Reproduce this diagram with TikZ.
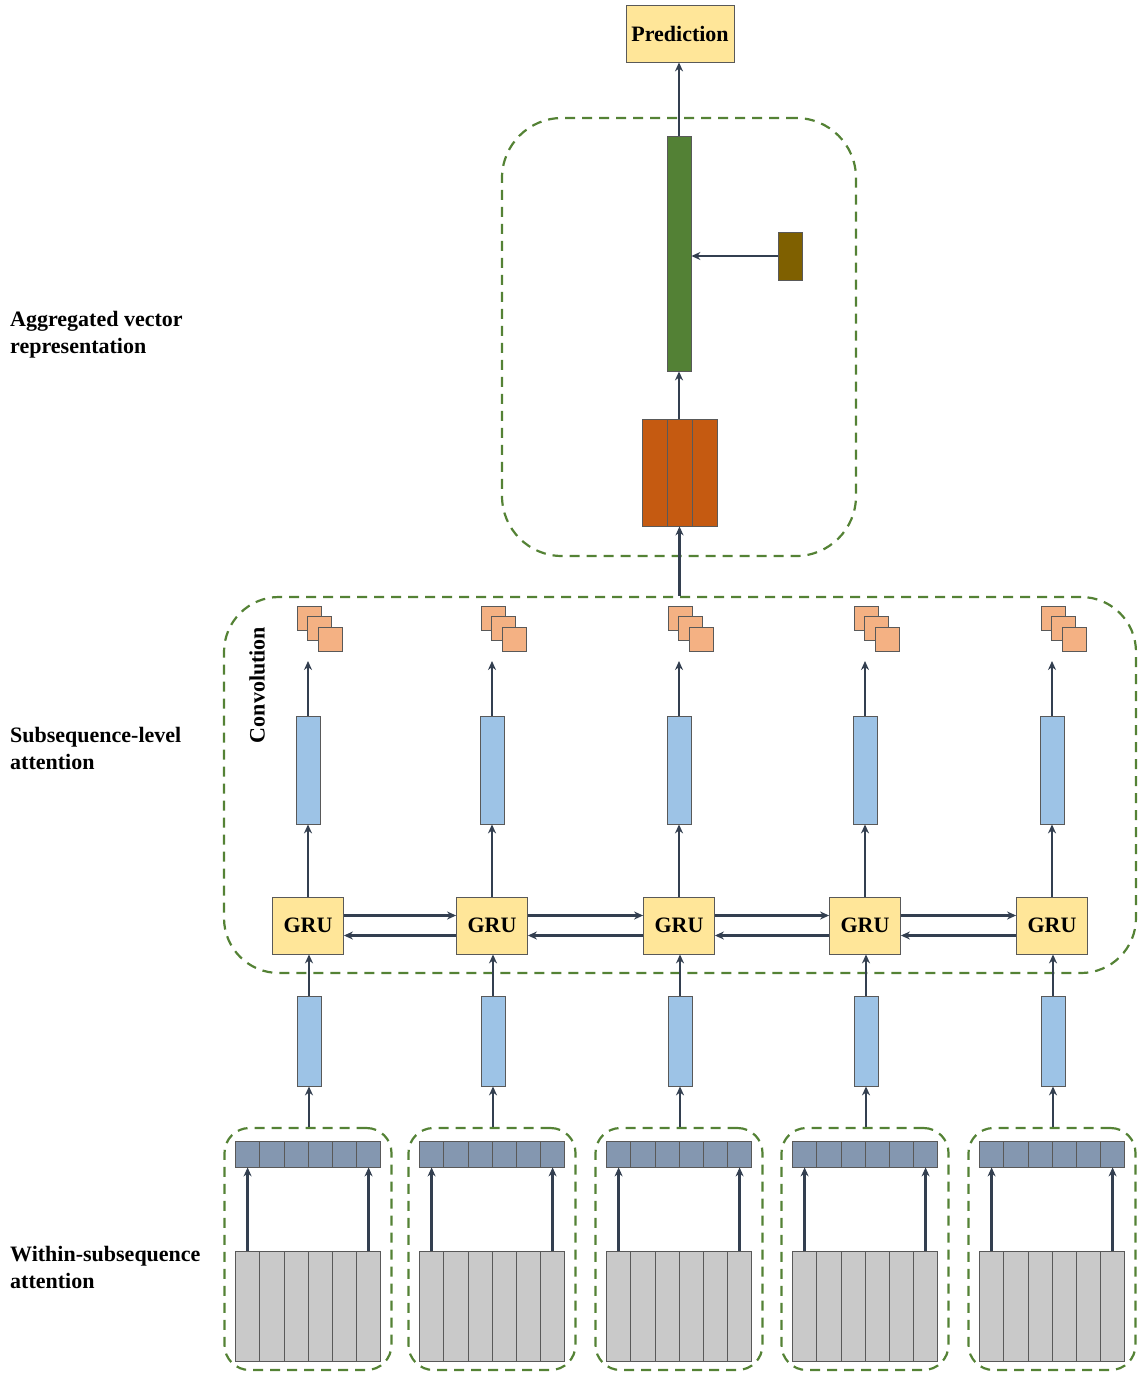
\documentclass[tikz,border=0pt]{standalone}
\usepackage{fontspec}
\setmainfont{Liberation Serif}
\usetikzlibrary{arrows.meta,calc,positioning}
\definecolor{arrline}{HTML}{333F50}
\definecolor{boxline}{HTML}{595959}
\definecolor{grpgreen}{HTML}{548235}
\definecolor{predyellow}{HTML}{FFE699}
\definecolor{aggreen}{HTML}{538135}
\definecolor{ctxbrown}{HTML}{7F6000}
\definecolor{convorange}{HTML}{C55A11}
\definecolor{salmon}{HTML}{F4B183}
\definecolor{lightblue}{HTML}{9DC3E6}
\definecolor{rowblue}{HTML}{8497B0}
\definecolor{cellgray}{HTML}{C9C9C9}
\tikzstyle{box}=[draw=boxline, line width=0.8pt, inner sep=0pt]
\tikzstyle{arr}=[-{Stealth[length=9pt, width=8pt]}, draw=arrline, line width=2.4pt]
\tikzstyle{grp}=[draw=grpgreen, dash pattern=on 10pt off 7pt, line width=2.2pt]
\tikzstyle{lbl}=[font=\fontsize{22}{27}\selectfont\bfseries]

\begin{document}
\begin{tikzpicture}[x=1pt, y=-1pt]
  \useasboundingbox (0,0) rectangle (1137,1375);
  % side labels
  \node[lbl, align=left, anchor=west, inner sep=0pt] (lagg) at (10,335) {Aggregated vector\\representation};
  \node[lbl, align=left, anchor=west, inner sep=0pt] (lsub) at (10,748) {Subsequence-level\\attention};
  \node[lbl, align=left, anchor=west, inner sep=0pt] (lwin) at (10,1267) {Within-subsequence\\attention};
  % prediction
  \node[box, lbl, fill=predyellow, minimum width=108, minimum height=57] (pred) at (680,33.5) {Prediction};
  % aggregated vector
  \node[grp, rounded corners=60, minimum width=354, minimum height=438] (aggbox) at (679,337) {};
  \node[box, fill=aggreen, minimum width=24, minimum height=235] (agg) at (679,253.5) {};
  \node[box, fill=ctxbrown, minimum width=24, minimum height=48] (ctx) at (790,256) {};
  \foreach \k/\x in {1/654.5,2/679.5,3/705}
    \node[box, fill=convorange, minimum width=25, minimum height=107] (conv\k) at (\x,472.5) {};
  \draw[arr] (agg.north) -- (agg.north |- pred.south);
  \draw[arr] (ctx.west) -- (ctx.west -| agg.east);
  \draw[arr] (agg.south |- conv2.north) -- (agg.south);
  % subsequence-level attention
  \node[grp, rounded corners=55, minimum width=912, minimum height=376] (subbox) at (680,785) {};
  \draw[arr] (subbox.north -| conv2.south) -- (conv2.south);
  \node[lbl, rotate=90] (convlbl) at (257,685) {Convolution};
  \foreach \x [count=\i] in {308,492,679,865,1052} {
    \node[box, lbl, fill=predyellow, minimum width=71, minimum height=57] (gru\i) at (\x,925.5) {GRU};
    \node[box, fill=lightblue, minimum width=24, minimum height=108] (hid\i) at (\x,770) {};
    \foreach \k/\d in {1/0,2/10,3/21}
      \node[box, fill=salmon, minimum width=24, minimum height=24] (fm\i\k) at (\x+1+\d,618+\d) {};
    \coordinate (top\i) at (\x,661);
    \draw[arr] (gru\i) -- (hid\i);
    \draw[arr] (hid\i) -- (top\i);
    % within-subsequence attention
    \node[grp, rounded corners=25, minimum width=167, minimum height=242] (wbox\i) at (\x,1249) {};
    \node[box, fill=lightblue, minimum width=24, minimum height=90] (emb\i) at (\x+1,1041) {};
    \foreach \k in {1,...,6} {
      \node[box, fill=rowblue, minimum width=24.2, minimum height=26] (att\i-\k) at (\x-72.5+24.2*\k-12.1,1154) {};
      \node[box, fill=cellgray, minimum width=24.2, minimum height=110] (tok\i-\k) at (\x-72.5+24.2*\k-12.1,1306) {};
    }
    \draw[arr] (wbox\i.north -| emb\i) -- (emb\i.south);
    \draw[arr] (emb\i.north) -- (emb\i |- gru\i.south);
    \draw[arr] (tok\i-1.north) -- (att\i-1.south);
    \draw[arr] (tok\i-6.north) -- (att\i-6.south);
  }
  % GRU chain
  \foreach \i [evaluate=\i as \j using int(\i+1)] in {1,...,4} {
    \draw[arr] ($(gru\i.east)+(0,-10)$) -- ($(gru\j.west)+(0,-10)$);
    \draw[arr] ($(gru\j.west)+(0,10)$) -- ($(gru\i.east)+(0,10)$);
  }
\end{tikzpicture}
\end{document}
